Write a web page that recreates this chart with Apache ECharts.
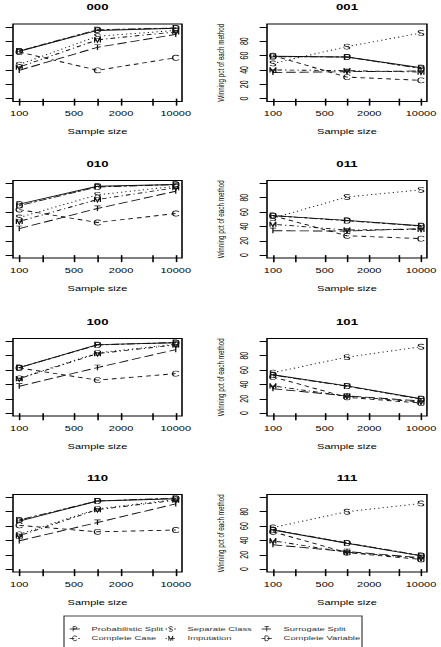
<!DOCTYPE html>
<html><head><meta charset="utf-8">
<script src="https://cdn.jsdelivr.net/npm/echarts@6/dist/echarts.min.js"></script>
<style>
html,body{margin:0;padding:0;background:#fff;overflow:hidden;width:441px;height:647px;}
#chart{position:absolute;left:0;top:0;width:281px;height:647px;transform-origin:0 0;transform:scaleX(1.569395);}
</style></head><body><div id="chart"></div>
<script>
// ---------------- data ----------------
const sampleSizes = [100, 1000, 10000];
const xTickValues = [100, 200, 500, 1000, 2000, 5000, 10000];
const xTickLabels = [100, 500, 2000, 10000];
const yTickValues = [0, 20, 40, 60, 80, 100];
const yTickLabels = [0, 20, 40, 60, 80];
const panelTitles = ['000', '001', '010', '011', '100', '101', '110', '111'];
const methodNames = ['Probabilistic Split', 'Complete Case', 'Separate Class', 'Imputation', 'Surrogate Split', 'Complete Variable'];
const methodLetters = ['P', 'C', 'S', 'M', 'T', 'D'];
// one triple (n = 100, 1000, 10000) per panel, panels in panelTitles order
const probabilisticSplit = [[66, 95, 98], [59, 58, 43], [71, 96, 98.5], [55, 48.5, 41], [63.5, 95.5, 98], [53.5, 38, 20], [67, 95, 98], [54.5, 36, 18.5]];
const completeCase = [[65, 39.5, 57], [60, 30, 25.5], [63.5, 45.5, 58], [55, 27, 23], [63, 46, 55], [50.5, 22, 14], [61, 52, 54.5], [52, 23, 13.5]];
const separateClass = [[47.5, 87, 95], [49, 72.5, 91.5], [52.5, 84, 96], [51.5, 81, 91], [48.5, 84, 96], [56.5, 78, 92.5], [48.5, 84, 97], [58, 80, 91.5]];
const imputation = [[44, 82, 93], [40, 39, 37], [47, 77.5, 94], [43, 35, 36], [48, 83, 95], [38, 23.5, 15.5], [46.5, 83, 96], [39.5, 23.5, 15]];
const surrogateSplit = [[39.5, 71.5, 89.5], [36.5, 37.5, 38.5], [37, 65, 89], [34, 33.5, 37], [37.5, 63.5, 88.5], [34, 24, 17], [39.5, 65, 91], [34, 24.5, 16]];
const completeVariable = [[66.5, 96, 98.5], [58.5, 58, 42], [69, 95, 98.5], [55, 48, 40.5], [63.5, 95, 98.5], [53, 37.5, 19.5], [68.5, 95, 99], [55, 36.5, 19]];
const methodValues = [probabilisticSplit, completeCase, separateClass, imputation, surrogateSplit, completeVariable];

// ---------------- styling ----------------
const S = 441 / 281;            // horizontal stretch of the reference
const X = px => px / S;          // convert reference px to chart px
const FONT = 'Liberation Sans';
// letter glyphs drawn in a 12 x 10 box (letter occupies x 2..10)
const letterPaths = {
  P: 'path://M0 0M12 10M3.5 10L3.5 0L7 0C10 0 10 5 7 5L3.5 5',
  C: 'path://M0 0M12 10M9.5 2C8.7 0.6 7.5 0 6 0C3.7 0 2.5 2.3 2.5 5C2.5 7.7 3.7 10 6 10C7.5 10 8.7 9.4 9.5 8',
  S: 'path://M0 0M12 10M9 1.6C8.4 0.5 7.3 0 6 0C4.2 0 3 0.9 3 2.6C3 4.2 4.5 4.6 6 5C7.6 5.4 9 5.9 9 7.4C9 9.1 7.8 10 6 10C4.6 10 3.5 9.4 3 8.3',
  M: 'path://M0 0M12 10M2.8 10L2.8 0L6 10L9.2 0L9.2 10',
  T: 'path://M0 0M12 10M2.5 0L9.5 0M6 0L6 10',
  D: 'path://M0 0M12 10M3.2 0L3.2 10L6 10C8.5 10 9.5 7.8 9.5 5C9.5 2.2 8.5 0 6 0Z'
};
const dashes = ['solid', [3, 2.5], [0.8, 2], [0.8, 2, 3, 2], [6, 2.5], [2, 1.5, 5, 1.5]];
const gridLefts = [13, 267];
const gridTops = [24, 180.5, 338.5, 494.5];
const gridW = 169, gridH = 77.5;

const grids = [], xAxes = [], titleAxes = [], yAxes = [], series = [];
panelTitles.forEach((title, i) => {
  const row = Math.floor(i / 2), col = i % 2;
  grids.push({ left: X(gridLefts[col]), top: gridTops[row], width: X(gridW), height: gridH,
    show: true, borderColor: '#000', borderWidth: 1, backgroundColor: 'transparent' });
  xAxes.push({
    type: 'log', logBase: 10, gridIndex: i, min: Math.pow(10, 1.92), max: Math.pow(10, 4.08),
    axisLine: { show: false },
    axisTick: { show: true, length: 7, customValues: xTickValues, lineStyle: { color: '#000', width: 1 } },
    axisLabel: { customValues: xTickLabels, fontSize: 7, color: '#000', margin: 9, fontFamily: FONT,
      formatter: v => String(Math.round(v)) },
    splitLine: { show: false },
    name: 'Sample size', nameLocation: 'middle', nameGap: 27,
    nameTextStyle: { fontSize: 7, color: '#000', fontFamily: FONT }
  });
  titleAxes.push({
    type: 'value', gridIndex: i, position: 'top',
    axisLine: { show: false }, axisTick: { show: false }, axisLabel: { show: false }, splitLine: { show: false },
    name: title, nameLocation: 'middle', nameGap: 13,
    nameTextStyle: { fontSize: 8.4, fontWeight: 'bold', color: '#000', fontFamily: FONT }
  });
  yAxes.push({
    type: 'value', gridIndex: i, min: -4, max: 104,
    axisLine: { show: false },
    axisTick: { show: true, length: 4.7, customValues: yTickValues, lineStyle: { color: '#000', width: 1 } },
    axisLabel: { show: col === 1, customValues: yTickLabels, rotate: 90, fontSize: 7, color: '#000', margin: 11, fontFamily: FONT },
    splitLine: { show: false },
    name: col === 1 ? 'Winning pct of each method' : '', nameLocation: 'middle', nameRotate: 90, nameGap: 26,
    nameTextStyle: { fontSize: 6.3, color: '#000', fontFamily: FONT }
  });
  methodNames.forEach((name, m) => {
    series.push({
      type: 'line', name: name, xAxisIndex: i, yAxisIndex: i,
      data: sampleSizes.map((n, k) => [n, methodValues[m][i][k]]),
      symbol: letterPaths[methodLetters[m]], symbolSize: [6.9, 5.2], showAllSymbol: true,
      lineStyle: { color: '#111', width: 0.9, type: dashes[m] },
      itemStyle: { color: 'rgba(0,0,0,0)', borderColor: '#111', borderWidth: 0.7 },
      emphasis: { disabled: true }, silent: true, clip: false
    });
  });
});

const legendCommon = {
  orient: 'vertical', top: 626, padding: 0, itemGap: 3.3, itemWidth: 6.5, itemHeight: 6,
  selectedMode: false,
  textStyle: { fontSize: 6, color: '#333', fontFamily: FONT, lineHeight: 6, padding: [0, 0, 0, 2.5] },
  itemStyle: { borderWidth: 0.6 }, lineStyle: { width: 0.8 }
};
const legends = [
  Object.assign({}, legendCommon, { left: X(69), data: [methodNames[0], methodNames[1]] }),
  Object.assign({}, legendCommon, { left: X(165), data: [methodNames[2], methodNames[3]] }),
  Object.assign({}, legendCommon, { left: X(261), data: [methodNames[4], methodNames[5]] })
];

const chart = echarts.init(document.getElementById('chart'), null, { renderer: 'svg' });
chart.setOption({
  animation: false,
  backgroundColor: '#fff',
  grid: grids,
  xAxis: xAxes.concat(titleAxes),
  yAxis: yAxes,
  legend: legends,
  graphic: [{ type: 'rect', shape: { x: X(64), y: 616, width: X(298), height: 40 },
    style: { fill: 'none', stroke: '#444', lineWidth: 0.8 }, silent: true }],
  series: series
});
</script></body></html>
